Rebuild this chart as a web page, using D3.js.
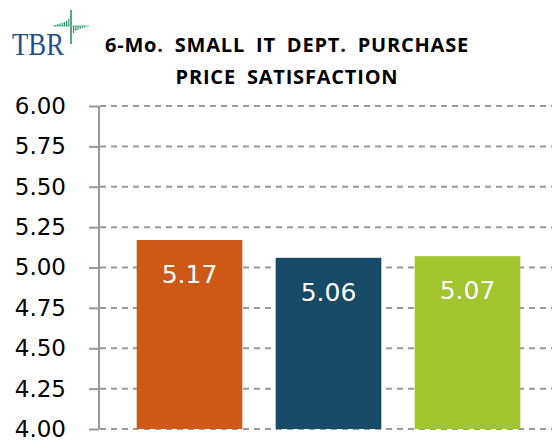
<!DOCTYPE html>
<html>
<head>
<meta charset="utf-8">
<script src="https://cdn.jsdelivr.net/npm/d3@7"></script>
<style>
  body { margin: 0; background: #fff; }
  svg { display: block; }
</style>
</head>
<body>
<div id="chart"></div>
<script>
// chart data
const categories = ["Q1", "Q2", "Q3"];
const values = [5.17, 5.06, 5.07];
const barColors = ["#CE5815", "#164A66", "#A2C42C"];
const tickValues = [4.00, 4.25, 4.50, 4.75, 5.00, 5.25, 5.50, 5.75, 6.00];
const titleLines = ["6-Mo. SMALL IT DEPT. PURCHASE", "PRICE SATISFACTION"];

const width = 552, height = 441;

const svg = d3.select("#chart").append("svg")
    .attr("width", width)
    .attr("height", height);

// scales
const y = d3.scaleLinear()
    .domain([4, 6])
    .range([429, 106]);

const x = d3.scaleBand()
    .domain(categories)
    .range([120, 537])
    .paddingInner(0.24)
    .paddingOuter(0.12);

// gridlines (dashed)
svg.append("g")
    .selectAll("line")
    .data(tickValues)
    .enter().append("line")
    .attr("x1", 100)
    .attr("x2", width)
    .attr("y1", d => y(d))
    .attr("y2", d => y(d))
    .attr("stroke", "#999")
    .attr("stroke-width", 2)
    .attr("stroke-dasharray", "6,5");

// bars
svg.append("g")
    .selectAll("rect")
    .data(values)
    .enter().append("rect")
    .attr("x", (d, i) => x(categories[i]))
    .attr("width", x.bandwidth())
    .attr("y", d => y(d))
    .attr("height", d => y(4) - y(d))
    .attr("fill", (d, i) => barColors[i]);

// value labels
svg.append("g")
    .selectAll("text")
    .data(values)
    .enter().append("text")
    .attr("x", (d, i) => x(categories[i]) + x.bandwidth() / 2)
    .attr("y", d => y(d) + 43)
    .attr("text-anchor", "middle")
    .attr("fill", "#fff")
    .style("font-family", "DejaVu Sans")
    .style("font-size", "25px")
    .text(d => d.toFixed(2));

// y axis
const yAxis = d3.axisLeft(y)
    .tickValues(tickValues)
    .tickFormat(d3.format(".2f"))
    .tickSize(10)
    .tickPadding(23);

const ax = svg.append("g")
    .attr("transform", "translate(99,0)")
    .call(yAxis);
ax.select(".domain").attr("stroke", "#999").attr("stroke-width", 2).attr("d", "M0," + y(6) + "V" + y(4));
ax.selectAll(".tick line").attr("stroke", "#999").attr("stroke-width", 2);
ax.selectAll(".tick text")
    .attr("fill", "#000")
    .style("font-family", "DejaVu Sans")
    .style("font-size", "23px");

// title
svg.append("g")
    .selectAll("text")
    .data(titleLines)
    .enter().append("text")
    .attr("x", 287)
    .attr("y", (d, i) => 52 + i * 32)
    .attr("text-anchor", "middle")
    .style("font-family", "Open Sans")
    .style("font-weight", "bold")
    .style("font-size", "20px")
    .style("letter-spacing", "0.8px")
    .style("word-spacing", "5px")
    .attr("fill", "#000")
    .text(d => d);

// logo
const logo = svg.append("g");
logo.append("text")
    .attr("x", 12)
    .attr("y", 55)
    .attr("textLength", 52)
    .attr("lengthAdjust", "spacingAndGlyphs")
    .style("font-family", "Liberation Serif")
    .style("font-size", "31px")
    .attr("fill", "#1F4E8A")
    .text("TBR");
logo.append("line")
    .attr("x1", 71).attr("x2", 71).attr("y1", 10).attr("y2", 44)
    .attr("stroke", "#1E8A5A").attr("stroke-width", 1.5);
logo.append("line")
    .attr("x1", 53).attr("x2", 89).attr("y1", 26).attr("y2", 26)
    .attr("stroke", "#6DBF96").attr("stroke-width", 1);
const leftBars = [1, 2, 2.5, 3, 4, 5, 7];
const rightBars = [7, 5, 4, 3, 2, 1.5];
logo.append("g").selectAll("rect")
    .data(leftBars).enter().append("rect")
    .attr("x", (d, i) => 55 + i * 2.2)
    .attr("y", d => 26 - d)
    .attr("width", 1.2)
    .attr("height", d => d)
    .attr("fill", "#2E9A68");
logo.append("g").selectAll("rect")
    .data(rightBars).enter().append("rect")
    .attr("x", (d, i) => 73 + i * 2.2)
    .attr("y", 26)
    .attr("width", 1.2)
    .attr("height", d => d)
    .attr("fill", "#2E9A68");
</script>
</body>
</html>
